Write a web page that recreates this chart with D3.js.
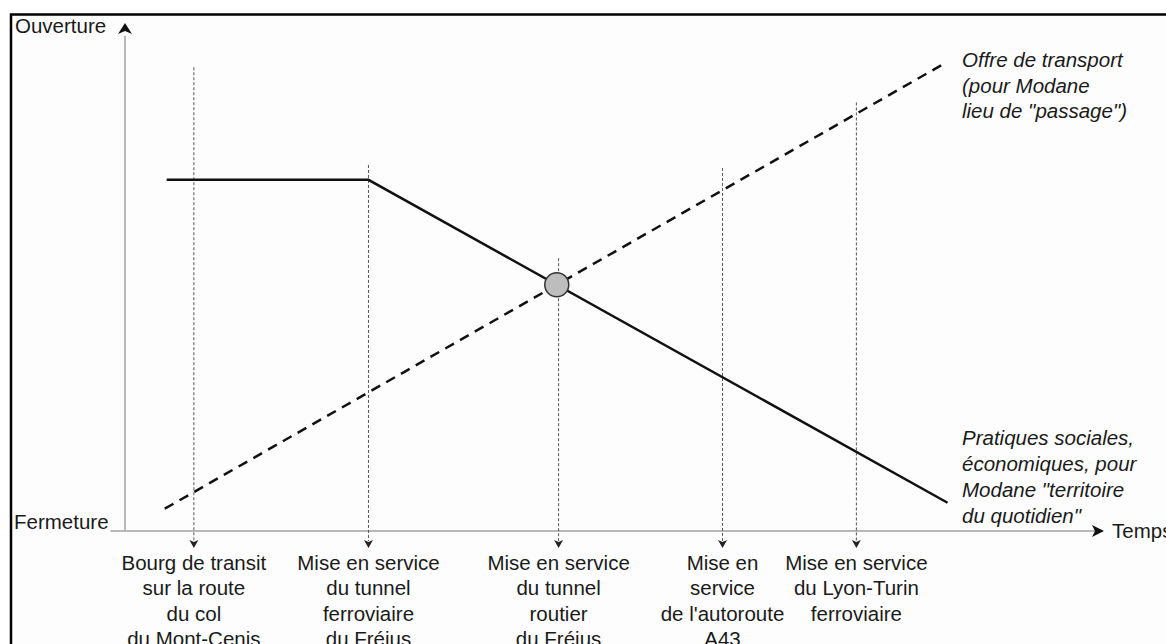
<!DOCTYPE html>
<html><head><meta charset="utf-8">
<script src="https://cdn.jsdelivr.net/npm/d3@7"></script>
<style>
html,body{margin:0;padding:0;background:#fff;}
svg{display:block;}
text{font-family:"Liberation Sans",Arial,sans-serif;fill:#1a1a1a;}
</style></head>
<body>
<svg id="c" width="1166" height="644"></svg>
<script>
// ---- data (time units 0-100, openness 0-100) ----
const events = [7.1, 25.1, 44.7, 61.6, 75.4];
const eventTops = [93.5, 73.8, 55.0, 73.2, 86.4];
const eventLabels = [
  ["Bourg de transit","sur la route","du col","du Mont-Cenis"],
  ["Mise en service","du tunnel","ferroviaire","du Fréjus"],
  ["Mise en service","du tunnel","routier","du Fréjus"],
  ["Mise en","service","de l'autoroute","A43"],
  ["Mise en service","du Lyon-Turin","ferroviaire"]
];
const practiceX = [4.3, 25.1, 84.8];
const practiceY = [70.8, 70.8, 5.7];
const offerX = [4.1, 84.6];
const offerY = [4.5, 94.4];
const offerLabel = ["Offre de transport","(pour Modane","lieu de \"passage\")"];
const practiceLabel = ["Pratiques sociales,","économiques, pour","Modane \"territoire","du quotidien\""];
const yAxisLabels = ["Ouverture","Fermeture"];
const xAxisLabel = "Temps";

const svg = d3.select("#c");
const x = d3.scaleLinear().domain([0,100]).range([125,1095]);
const y = d3.scaleLinear().domain([0,100]).range([531,35]);
const FS = 20.5;

svg.append("rect").attr("x",0).attr("y",0).attr("width",1166).attr("height",644).attr("fill","#fff");
// frame
svg.append("rect").attr("x",11).attr("y",14.5).attr("width",1200).attr("height",700)
  .attr("fill","#fdfdfd").attr("stroke","#000").attr("stroke-width",2.5);

// axes
svg.append("line").attr("x1",x(0)).attr("x2",x(0)).attr("y1",y(0)).attr("y2",y(100)+1)
  .attr("stroke","#b8b8b8").attr("stroke-width",2);
svg.append("line").attr("x1",x(-1.5)).attr("x2",x(100)).attr("y1",y(0)).attr("y2",y(0))
  .attr("stroke","#b8b8b8").attr("stroke-width",2);
// y arrowhead
svg.append("path").attr("d",`M${x(0)},${y(100)-12} L${x(0)+7},${y(100)-1} L${x(0)},${y(100)-4} L${x(0)-7},${y(100)-1} Z`).attr("fill","#111");
// x arrowhead
svg.append("path").attr("d",`M${x(100)+9},${y(0)} L${x(100)-3},${y(0)-6} L${x(100)},${y(0)} L${x(100)-3},${y(0)+6} Z`).attr("fill","#111");

svg.append("text").attr("x",15).attr("y",33).attr("font-size",FS).text(yAxisLabels[0]);
svg.append("text").attr("x",14).attr("y",529).attr("font-size",FS).text(yAxisLabels[1]);
svg.append("text").attr("x",x(100)+17).attr("y",y(0)+7).attr("font-size",FS).text(xAxisLabel);

// event dotted lines
events.forEach((e,i)=>{
  svg.append("line").attr("x1",x(e)).attr("x2",x(e)).attr("y1",y(eventTops[i])).attr("y2",y(0)+10)
    .attr("stroke","#555").attr("stroke-width",1).attr("stroke-dasharray","3,2");
  svg.append("path").attr("d",`M${x(e)},${y(0)+17} L${x(e)-4.5},${y(0)+9} L${x(e)},${y(0)+11} L${x(e)+4.5},${y(0)+9} Z`).attr("fill","#222");
  const t = svg.append("text").attr("text-anchor","middle").attr("font-size",FS);
  eventLabels[i].forEach((s,k)=>{
    t.append("tspan").attr("x",x(e)).attr("y",570+k*25.4).text(s);
  });
});

const line = d3.line().x(d=>x(d[0])).y(d=>y(d[1]));
// practices (solid)
svg.append("path").attr("d",line(practiceX.map((v,i)=>[v,practiceY[i]])))
  .attr("fill","none").attr("stroke","#111").attr("stroke-width",2.5);
// offer (dashed)
svg.append("path").attr("d",line(offerX.map((v,i)=>[v,offerY[i]])))
  .attr("fill","none").attr("stroke","#111").attr("stroke-width",2.5).attr("stroke-dasharray","10,7");

// intersection of offer line with second practice segment
function inter(a1,a2,b1,b2){
  const d=(a2[0]-a1[0])*(b2[1]-b1[1])-(a2[1]-a1[1])*(b2[0]-b1[0]);
  const t=((b1[0]-a1[0])*(b2[1]-b1[1])-(b1[1]-a1[1])*(b2[0]-b1[0]))/d;
  return [a1[0]+t*(a2[0]-a1[0]), a1[1]+t*(a2[1]-a1[1])];
}
const p = inter([practiceX[1],practiceY[1]],[practiceX[2],practiceY[2]],[offerX[0],offerY[0]],[offerX[1],offerY[1]]);
svg.append("circle").attr("cx",x(p[0])).attr("cy",y(p[1])).attr("r",12)
  .attr("fill","#bdbdbd").attr("stroke","#333").attr("stroke-width",1.5);

// annotations
const t1 = svg.append("text").attr("font-size",FS).attr("font-style","italic");
offerLabel.forEach((s,k)=>t1.append("tspan").attr("x",962).attr("y",67+k*25.7).text(s));
const t2 = svg.append("text").attr("font-size",FS).attr("font-style","italic");
practiceLabel.forEach((s,k)=>t2.append("tspan").attr("x",962).attr("y",445+k*26).text(s));
</script>
</body></html>
